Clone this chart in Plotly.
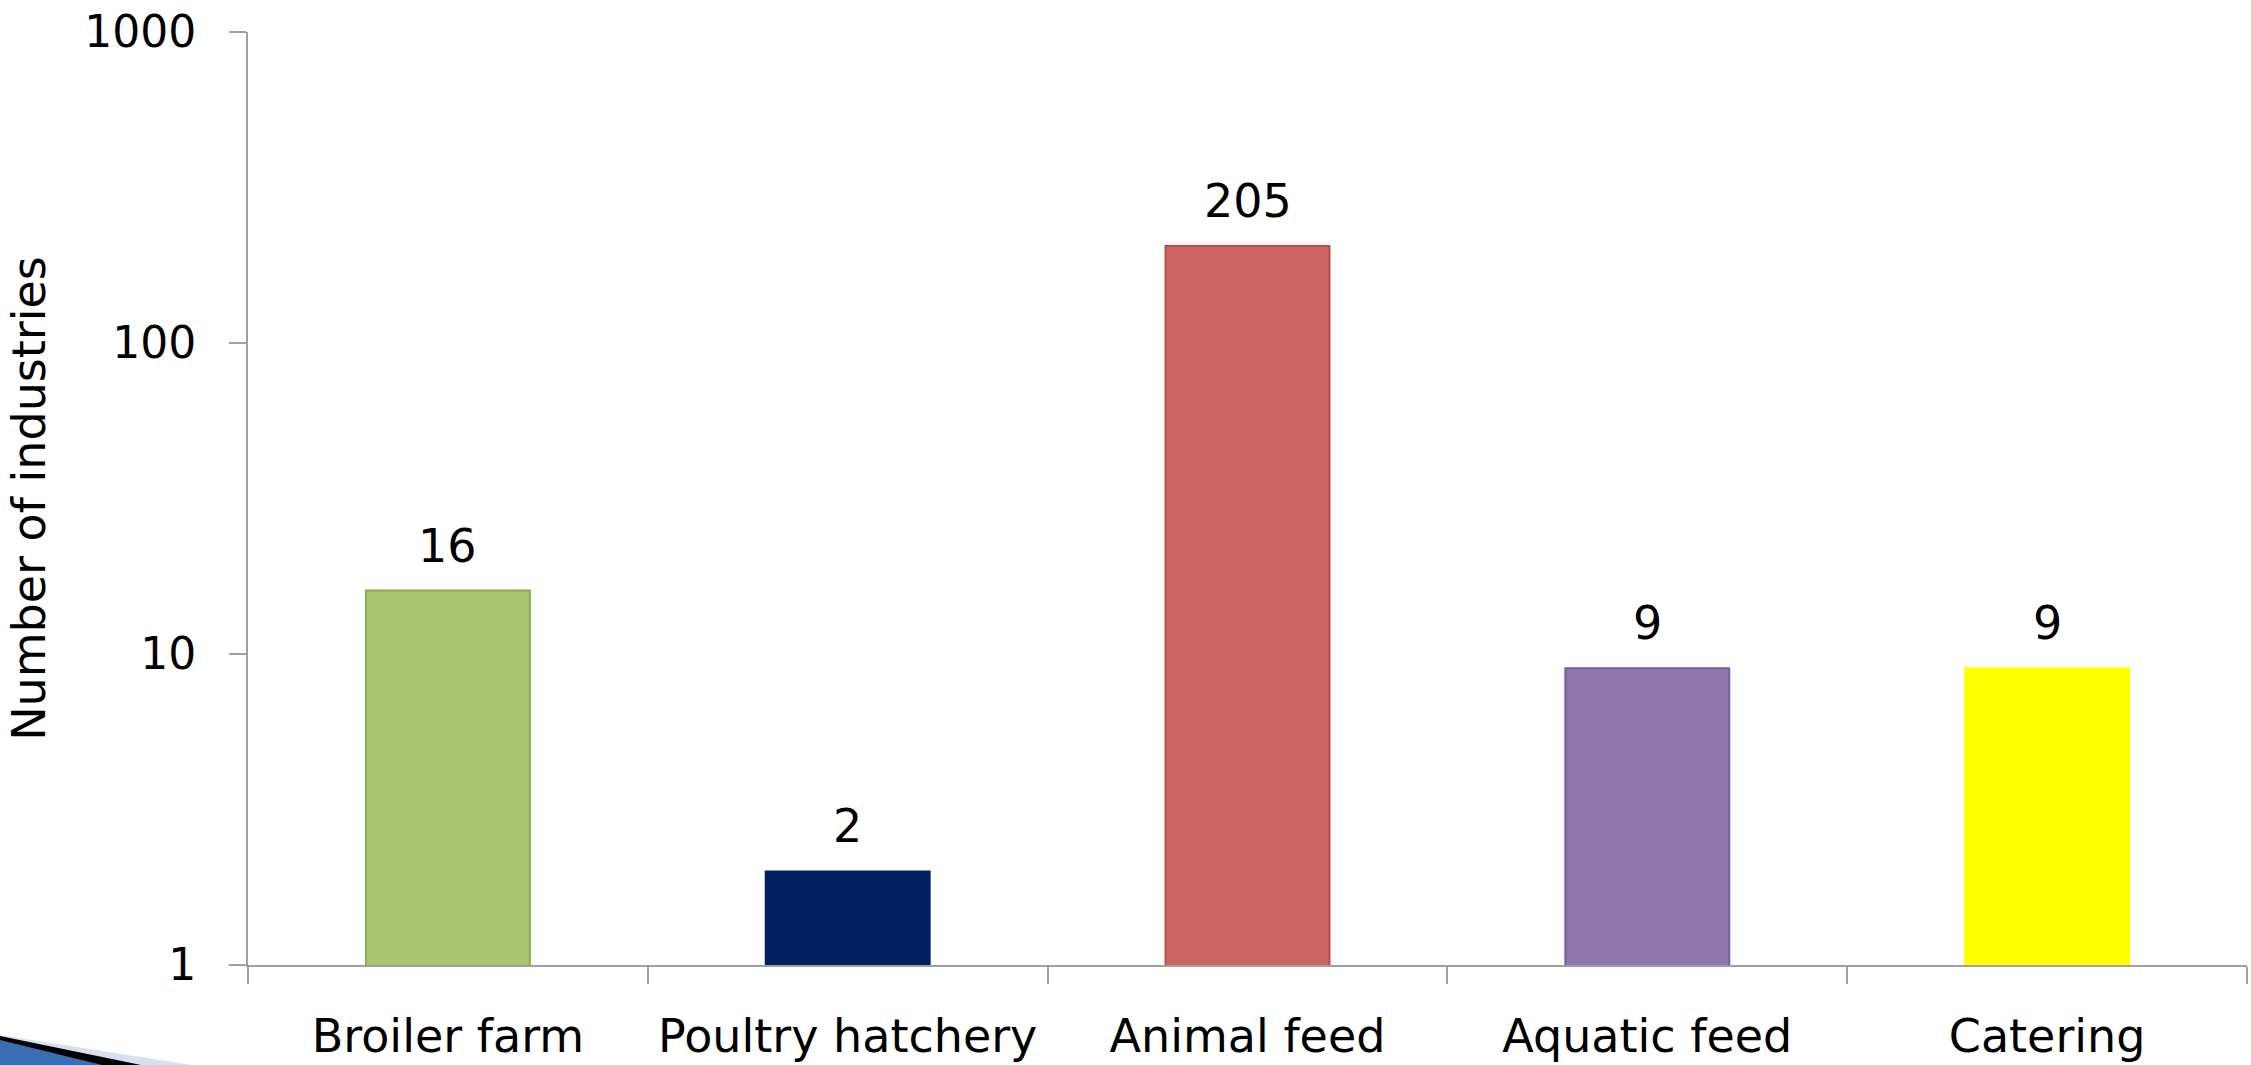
import plotly.graph_objects as go
import math

categories = ["Broiler farm", "Poultry hatchery", "Animal feed", "Aquatic feed", "Catering"]
values = [16, 2, 205, 9, 9]
bar_colors = ["#A9C56E", "#002060", "#CB6664", "#8E78AE", "#FFFF00"]
edge_colors = ["#8CAB51", "#002060", "#B94A48", "#74609A", "#FFFF00"]
y_tickvals = [1, 10, 100, 1000]
y_ticktext = ["1", "10", "100", "1000"]

FONT = "DejaVu Sans"

fig = go.Figure()
fig.add_trace(go.Bar(
    x=categories, y=values,
    marker=dict(color=bar_colors, line=dict(color=edge_colors, width=2)),
    width=0.41,
    hoverinfo="x+y",
))

for c, v in zip(categories, values):
    fig.add_annotation(x=c, y=math.log10(v), text=str(v), showarrow=False,
                       yanchor="bottom", yshift=16,
                       font=dict(family=FONT, size=46, color="#000000"))

# decorative slide swoosh (bottom-left corner of the slide)
fig.add_shape(type="path", xref="paper", yref="paper",
              path="M -0.1241,-0.0750 L -0.0240,-0.1085 L -0.1241,-0.1085 Z",
              fillcolor="#D6E0F0", line=dict(width=0), layer="above")
fig.add_shape(type="path", xref="paper", yref="paper",
              path="M -0.1241,-0.0761 L -0.0505,-0.1085 L -0.1241,-0.1085 Z",
              fillcolor="#000000", line=dict(width=0), layer="above")
fig.add_shape(type="path", xref="paper", yref="paper",
              path="M -0.1241,-0.0804 L -0.0705,-0.1085 L -0.1241,-0.1085 Z",
              fillcolor="#3B6DB3", line=dict(width=0), layer="above")

fig.update_layout(
    width=2251, height=1065,
    margin=dict(l=248, r=4, t=32, b=100, autoexpand=False),
    paper_bgcolor="#FFFFFF", plot_bgcolor="#FFFFFF",
    showlegend=False,
    font=dict(family=FONT, size=46, color="#000000"),
    bargap=0.59,
)
fig.update_xaxes(
    showline=True, linecolor="#A0A0A0", linewidth=2,
    ticks="outside", ticklen=17, tickcolor="#A0A0A0", tickwidth=2,
    tickson="boundaries", showgrid=False,
    tickfont=dict(family=FONT, size=46, color="#000000"),
    ticklabelstandoff=30, ticklabeloverflow="allow",
)
fig.update_yaxes(
    type="log", range=[0, 3],
    showline=True, linecolor="#A0A0A0", linewidth=2,
    ticks="outside", ticklen=17, tickcolor="#A0A0A0", tickwidth=2,
    tickvals=y_tickvals, ticktext=y_ticktext, showgrid=False, zeroline=False,
    tickfont=dict(family=FONT, size=44, color="#000000"),
    ticklabelstandoff=24, ticklabeloverflow="allow",
    title=dict(text="Number of industries", standoff=24,
               font=dict(family=FONT, size=46, color="#000000")),
)

fig.write_html("out.html", config={"displayModeBar": False},
               post_script="document.body.style.margin='0';")
